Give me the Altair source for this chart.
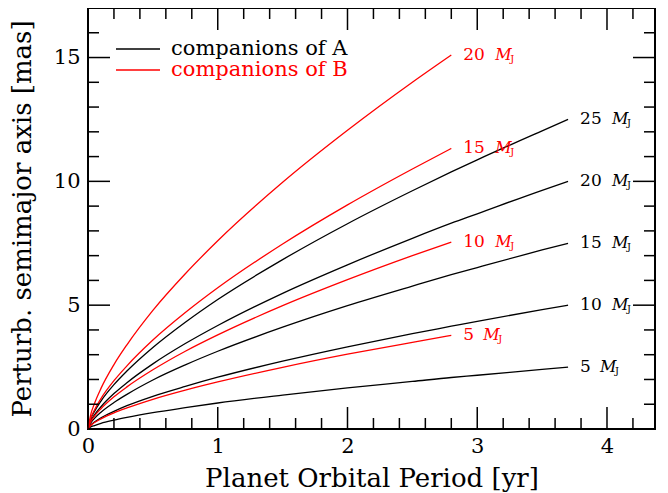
import altair as alt
import pandas as pd

# ---- data ----
P_A = [0, 0.02, 0.05, 0.1, 0.2, 0.3, 0.5, 0.75, 1, 1.5, 2, 2.5, 2.8, 3, 3.5, 3.7]
A_5 = [0, 0.08, 0.14, 0.23, 0.36, 0.47, 0.66, 0.86, 1.05, 1.37, 1.66, 1.92, 2.08, 2.17, 2.41, 2.50]
A_10 = [0, 0.15, 0.28, 0.45, 0.71, 0.94, 1.32, 1.72, 2.09, 2.74, 3.32, 3.85, 4.15, 4.35, 4.82, 5.00]
A_15 = [0, 0.23, 0.43, 0.68, 1.07, 1.40, 1.98, 2.59, 3.14, 4.11, 4.98, 5.77, 6.23, 6.52, 7.23, 7.50]
A_20 = [0, 0.31, 0.57, 0.90, 1.43, 1.87, 2.63, 3.45, 4.18, 5.48, 6.63, 7.70, 8.31, 8.69, 9.64, 10.00]
A_25 = [0, 0.39, 0.71, 1.13, 1.79, 2.34, 3.29, 4.31, 5.23, 6.84, 8.29, 9.62, 10.38, 10.87, 12.04, 12.50]

P_B = [0, 0.02, 0.05, 0.1, 0.2, 0.3, 0.5, 0.75, 1, 1.5, 2, 2.5, 2.8]
B_5 = [0, 0.14, 0.26, 0.41, 0.65, 0.85, 1.20, 1.57, 1.90, 2.49, 3.02, 3.50, 3.78]
B_10 = [0, 0.28, 0.52, 0.82, 1.30, 1.70, 2.39, 3.14, 3.80, 4.98, 6.03, 7.00, 7.55]
B_15 = [0, 0.42, 0.77, 1.23, 1.95, 2.55, 3.59, 4.70, 5.70, 7.47, 9.05, 10.50, 11.33]
B_20 = [0, 0.56, 1.03, 1.64, 2.60, 3.40, 4.79, 6.27, 7.60, 9.96, 12.06, 14.00, 15.10]

X_MAJOR = [0, 1, 2, 3, 4]
X_MINOR = [0.2, 0.4, 0.6, 0.8, 1.2, 1.4, 1.6, 1.8, 2.2, 2.4, 2.6, 2.8,
           3.2, 3.4, 3.6, 3.8, 4.2]
Y_MAJOR = [0, 5, 10, 15]
Y_MINOR = [1, 2, 3, 4, 6, 7, 8, 9, 11, 12, 13, 14, 16]

LEGEND_A = "companions of A"
LEGEND_B = "companions of B"
X_TITLE = "Planet Orbital Period [yr]"
Y_TITLE = "Perturb. semimajor axis [mas]"

FONT = "DejaVu Serif"
W, H = 567, 421

# ---- build tables ----
series = [("A", "5", P_A, A_5), ("A", "10", P_A, A_10), ("A", "15", P_A, A_15),
          ("A", "20", P_A, A_20), ("A", "25", P_A, A_25),
          ("B", "5", P_B, B_5), ("B", "10", P_B, B_10), ("B", "15", P_B, B_15),
          ("B", "20", P_B, B_20)]
rows, ends = [], []
for grp, m, ps, vals in series:
    for p, v in zip(ps, vals):
        rows.append({"P": p, "a": v, "grp": grp, "sid": grp + m})
    ends.append({"P": ps[-1], "a": vals[-1], "grp": grp, "m": m, "nd": len(m)})
df = pd.DataFrame(rows)
ends_df = pd.DataFrame(ends)

xs = alt.Scale(domain=[0, 4.37], nice=False, zero=False)
ys = alt.Scale(domain=[0, 17], nice=False, zero=False)
cs = alt.Scale(domain=["A", "B"], range=["black", "red"])

x_axis = alt.Axis(values=X_MAJOR, format="d", ticks=False, domain=False, grid=False,
                  labelFont=FONT, labelFontSize=21, labelColor="black",
                  labelPadding=6, title=X_TITLE, titleFont=FONT,
                  titleFontSize=26, titleFontWeight="normal", titleColor="black",
                  titlePadding=9, labelFlush=False)
y_axis = alt.Axis(values=Y_MAJOR, format="d", ticks=False, domain=False, grid=False,
                  labelFont=FONT, labelFontSize=21, labelColor="black",
                  labelPadding=8, title=Y_TITLE, titleFont=FONT,
                  titleFontSize=26, titleFontWeight="normal", titleColor="black",
                  titlePadding=18, labelFlush=False)


def X(field):
    return alt.X(field, scale=xs, axis=x_axis, title=X_TITLE)


def Y(field):
    return alt.Y(field, scale=ys, axis=y_axis, title=Y_TITLE)


lines = alt.Chart(df).mark_line(strokeWidth=1.3, interpolate="monotone").encode(
    x=X("P:Q"), y=Y("a:Q"),
    color=alt.Color("grp:N", scale=cs, legend=None),
    detail="sid:N",
)

base_end = alt.Chart(ends_df).encode(
    x=X("P:Q"), y=Y("a:Q"),
    color=alt.Color("grp:N", scale=cs, legend=None),
)
num_txt = base_end.mark_text(align="left", baseline="middle", dx=12,
                             font=FONT, fontSize=17).encode(text="m:N")
one = base_end.transform_filter("datum.nd == 1")
two = base_end.transform_filter("datum.nd == 2")
m1 = one.mark_text(align="left", baseline="middle", dx=32, font=FONT,
                   fontStyle="italic", fontSize=16).encode(text=alt.value("M"))
j1 = one.mark_text(align="left", baseline="middle", dx=47, dy=4, font=FONT,
                   fontSize=10).encode(text=alt.value("J"))
m2 = two.mark_text(align="left", baseline="middle", dx=44, font=FONT,
                   fontStyle="italic", fontSize=16).encode(text=alt.value("M"))
j2 = two.mark_text(align="left", baseline="middle", dx=59, dy=4, font=FONT,
                   fontSize=10).encode(text=alt.value("J"))


def tick_layer(vals, length, side):
    d = pd.DataFrame({"t": vals})
    c = alt.Chart(d).mark_rule(color="black", strokeWidth=1.5)
    if side == "bottom":
        return c.encode(x=X("t:Q"), y=alt.value(H), y2=alt.value(H - length))
    if side == "top":
        return c.encode(x=X("t:Q"), y=alt.value(0), y2=alt.value(length))
    if side == "left":
        return c.encode(y=Y("t:Q"), x=alt.value(0), x2=alt.value(length))
    return c.encode(y=Y("t:Q"), x=alt.value(W), x2=alt.value(W - length))


ticks = []
for side in ["bottom", "top"]:
    ticks.append(tick_layer(X_MAJOR, 22, side))
    ticks.append(tick_layer(X_MINOR, 11, side))
for side in ["left", "right"]:
    ticks.append(tick_layer(Y_MAJOR, 22, side))
    ticks.append(tick_layer(Y_MINOR, 11, side))

one_row = pd.DataFrame({"k": [0]})
leg = [
    alt.Chart(one_row).mark_rule(color="black", strokeWidth=1.3).encode(
        x=alt.value(28), x2=alt.value(72), y=alt.value(41)),
    alt.Chart(one_row).mark_rule(color="red", strokeWidth=1.3).encode(
        x=alt.value(28), x2=alt.value(72), y=alt.value(62)),
    alt.Chart(one_row).mark_text(align="left", baseline="middle", font=FONT,
                                 fontSize=21, color="black").encode(
        x=alt.value(83), y=alt.value(41), text=alt.value(LEGEND_A)),
    alt.Chart(one_row).mark_text(align="left", baseline="middle", font=FONT,
                                 fontSize=21, color="red").encode(
        x=alt.value(83), y=alt.value(62), text=alt.value(LEGEND_B)),
]

chart = alt.layer(lines, *ticks, num_txt, m1, j1, m2, j2, *leg).properties(
    width=W, height=H,
    autosize=alt.AutoSizeParams(type="none"),
    padding={"left": 80, "top": 0, "right": 5, "bottom": 70},
    background="white",
).configure(font=FONT).configure_view(stroke="black", strokeWidth=2).configure_axis(
    labelFont=FONT, titleFont=FONT)

chart.save("out.html", embed_options={"renderer": "svg", "actions": False})
